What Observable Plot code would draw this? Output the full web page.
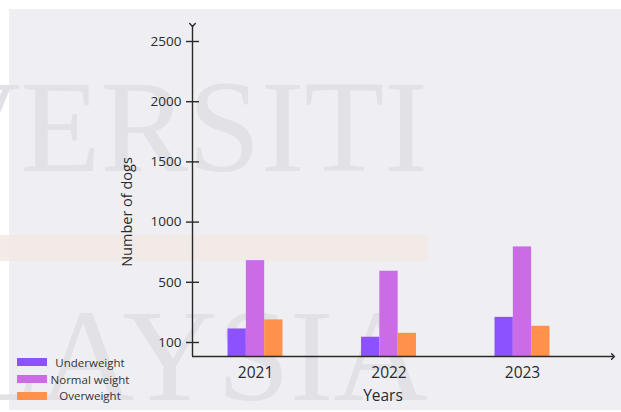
<!DOCTYPE html>
<html>
<head>
<meta charset="utf-8">
<script src="https://cdn.jsdelivr.net/npm/d3@7"></script>
<script src="https://cdn.jsdelivr.net/npm/@observablehq/plot@0.6"></script>
<style>
  html, body { margin: 0; padding: 0; background: #ffffff; }
  #wrap { position: relative; width: 621px; height: 412px; overflow: hidden; background: #ffffff; font-family: "Open Sans", sans-serif; }
  #panel { position: absolute; left: 9px; top: 9px; right: 0; bottom: 2px; background: #efeff3; }
  .wm { position: absolute; font-family: "Liberation Serif", serif; font-size: 131px; color: #e1e1e6; white-space: nowrap; line-height: 1; text-align: right; width: 1000px; left: -572px; }
  #band { position: absolute; left: 0; width: 428px; top: 235px; height: 26px; background: #f2e9e5; opacity: 0.9; }
  #chart { position: absolute; left: 0; top: 0; }
  #legend { position: absolute; left: 17px; top: 354px; font-size: 11.5px; color: #333; }
  .row { display: flex; align-items: center; height: 16.7px; }
  .sw { width: 30px; height: 8px; flex: none; }
  .lab { width: 86px; margin-left: 0px; text-align: center; white-space: nowrap; }
</style>
</head>
<body>
<div id="wrap">
  <div id="panel"></div>
  <div class="wm" style="top:61px;">UNIVERSITI</div>
  <div class="wm" style="top:290px;">MALAYSIA</div>
  <div id="band"></div>
  <div id="chart"></div>
  <div id="legend"></div>
</div>
<script>
// ---- data ----
const years = ["2021", "2022", "2023"];
const categories = ["Underweight", "Normal weight", "Overweight"];
const underweight = [190, 135, 267];
const normalWeight = [680, 592, 794];
const overweight = [250, 161, 208];
const colors = ["#8c52ff", "#cb6ce6", "#ff914d"];
const yTicks = [100, 500, 1000, 1500, 2000, 2500];
const xLabel = "Years";
const yLabel = "Number of dogs";

const series = [underweight, normalWeight, overweight];
const rows = [];
years.forEach((yr, i) => categories.forEach((c, j) => rows.push({year: yr, category: c, value: series[j][i]})));

// ---- layout ----
const W = 621, H = 412;
const mL = 192, mR = 36, mT = 25, mB = 56;
const overhang = 28;         // x axis arrow beyond last group
const head = 16;             // y axis arrow beyond top tick
const firstGap = 14;         // baseline -> first labelled tick
const yBase = H - mB;
const yTopTick = mT + head;
const step = (yBase - firstGap - yTopTick) / (yTicks.length - 1);
const yDomain = [0, ...yTicks];
const yRange = [yBase, ...yTicks.map((_, i) => yBase - firstGap - i * step)];
const frameW = W - mL - mR;
const frameH = H - mT - mB;
const ink = "#2a2a2a";

const chart = Plot.plot({
  width: W, height: H,
  marginLeft: mL, marginRight: mR, marginTop: mT, marginBottom: mB,
  style: {background: "transparent", color: ink, fontFamily: "Open Sans, sans-serif", overflow: "visible"},
  fx: {domain: years, paddingInner: 0.056, paddingOuter: 0, round: false},
  x: {domain: categories, axis: null, paddingInner: 0, paddingOuter: 1.94, round: false},
  y: {type: "linear", domain: yDomain, range: yRange},
  color: {domain: categories, range: colors},
  marks: [
    Plot.barY(rows, {fx: "year", x: "category", y: "value", fill: "category"}),
    Plot.ruleY([0], {y: null, facet: "super", dy: frameH / 2, insetRight: -overhang, stroke: ink, strokeWidth: 1.4, markerEnd: "arrow"}),
    Plot.ruleX([0], {x: null, facet: "super", dx: -frameW / 2, stroke: ink, strokeWidth: 1.4, markerStart: "arrow"}),
    Plot.axisY({ticks: yTicks, tickFormat: (d) => String(d), tickSize: 13, dx: 7, tickPadding: 5,
      fontSize: 13.5, label: null, stroke: ink, strokeWidth: 1.4}),
    Plot.axisFx({anchor: "bottom", tickSize: 0, tickPadding: 10, fontSize: 15.5, label: null}),
    Plot.text([xLabel], {facet: "super", frameAnchor: "bottom", lineAnchor: "middle", dx: -6, dy: 40, fontSize: 15.5, fill: ink}),
    Plot.text([yLabel], {facet: "super", frameAnchor: "left", textAnchor: "middle", lineAnchor: "middle", rotate: -90, dx: -65, dy: 21, fontSize: 14.5, fill: ink})
  ]
});
document.getElementById("chart").appendChild(chart);

// ---- legend ----
const legend = document.getElementById("legend");
categories.forEach((c, j) => {
  const r = document.createElement("div");
  r.className = "row";
  r.innerHTML = `<div class="sw" style="background:${colors[j]}"></div><div class="lab">${c}</div>`;
  legend.appendChild(r);
});
</script>
</body>
</html>
